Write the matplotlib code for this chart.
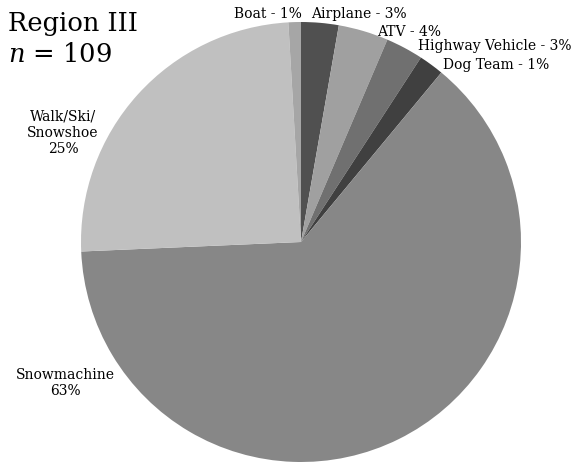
import matplotlib
matplotlib.use("Agg")
import matplotlib.pyplot as plt

plt.rcParams["mathtext.fontset"] = "dejavuserif"

categories = ["Airplane", "ATV", "Highway Vehicle", "Dog Team", "Snowmachine", "Walk/Ski/\nSnowshoe", "Boat"]
counts = [3, 4, 3, 2, 69, 27, 1]
pct_labels = ["3%", "4%", "3%", "1%", "63%", "25%", "1%"]
colors = ["#505050", "#a0a0a0", "#707070", "#404040", "#878787", "#c0c0c0", "#a6a6a6"]

W, H = 580, 462
fig = plt.figure(figsize=(W / 100, H / 100), dpi=100)
cx, cy, r = 301, 242, 220
ax = fig.add_axes([(cx - r) / W, (H - cy - r) / H, 2 * r / W, 2 * r / H])
ax.pie(counts, colors=colors, startangle=90, counterclock=False, radius=1.0,
       wedgeprops=dict(linewidth=0))
ax.set_xlim(-1, 1)
ax.set_ylim(-1, 1)
ax.set_aspect("equal")
ax.axis("off")

font = "DejaVu Serif"

def px(x, y):
    return x / W, 1 - y / H

fs = 10
fig.text(*px(302, 14), f"Boat - {pct_labels[6]}", ha="right", va="center", fontsize=fs, family=font)
fig.text(*px(311, 14), f"{categories[0]} - {pct_labels[0]}", ha="left", va="center", fontsize=fs, family=font)
fig.text(*px(377, 32), f"{categories[1]} - {pct_labels[1]}", ha="left", va="center", fontsize=fs, family=font)
fig.text(*px(418, 46), f"{categories[2]} - {pct_labels[2]}", ha="left", va="center", fontsize=fs, family=font)
fig.text(*px(443, 65), f"{categories[3]} - {pct_labels[3]}", ha="left", va="center", fontsize=fs, family=font)
fig.text(*px(63, 133), f"{categories[5]}\n{pct_labels[5]}", ha="center", va="center", fontsize=fs, family=font, linespacing=1.2)
fig.text(*px(65, 383), f"{categories[4]}\n{pct_labels[4]}", ha="center", va="center", fontsize=fs, family=font, linespacing=1.2)

fig.text(*px(8, 23), "Region III", ha="left", va="center", fontsize=18.5, family=font)
fig.text(*px(8, 54), "$n$ = 109", ha="left", va="center", fontsize=18.5, family=font)

fig.savefig("out.png", dpi=100)
